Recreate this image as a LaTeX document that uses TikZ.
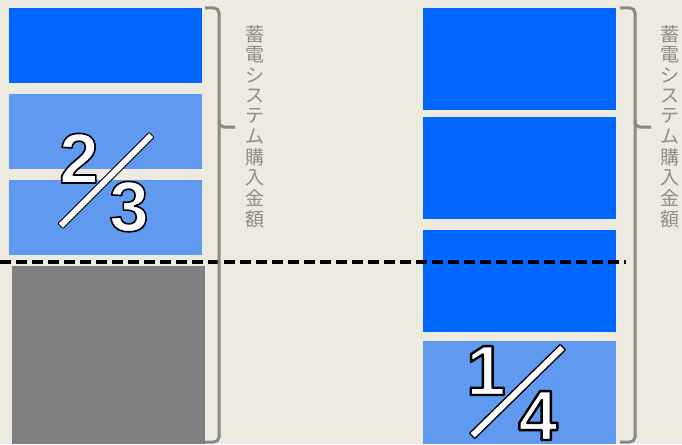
\documentclass[tikz,border=0pt]{standalone}
\usepackage{fontspec}
\setmainfont{Liberation Sans}
\newfontfamily\cjk{Noto Sans CJK JP}
\definecolor{bg}{HTML}{EDEAE0}
\definecolor{dblue}{HTML}{0066FF}
\definecolor{lblue}{HTML}{6099F0}
\definecolor{greybox}{HTML}{808080}
\definecolor{bracegrey}{HTML}{888888}
\definecolor{txtgrey}{HTML}{8C8C8C}
\newcommand{\outlined}[2]{\special{pdf:code q 0 0 0 RG #1 w 1 j 2 Tr}#2\special{pdf:code Q}}
\tikzset{
  bracepath/.style={draw=bracegrey,line width=3pt,rounded corners=5pt},
  digit/.style={inner sep=0pt,outer sep=0pt,text=white,font=\bfseries\fontsize{71}{71}\selectfont,anchor=base},
  slashbar/.style={draw=black,fill=white,line width=0.9pt,minimum width=129pt,minimum height=7pt,inner sep=0pt,rounded corners=0.8pt},
  vchar/.style={text=txtgrey,font=\cjk\fontsize{19}{19}\selectfont,inner sep=0pt}
}
\begin{document}
\begin{tikzpicture}[x=1pt,y=-1pt]
\fill[bg] (0,0) rectangle (682,444);
\useasboundingbox (0,0) rectangle (682,444);
% left column
\fill[dblue] (9,8) rectangle (202,83);
\fill[lblue] (9,94) rectangle (202,169);
\fill[lblue] (9,180) rectangle (202,255);
\fill[greybox] (12,266) rectangle (205,444);
% right column
\fill[dblue] (423,8) rectangle (616,110);
\fill[dblue] (423,117) rectangle (616,219);
\fill[dblue] (423,230) rectangle (616,332);
\fill[lblue] (423,341) rectangle (616,444);
% dashed line
\coordinate (dl) at (0,262);
\coordinate (dr) at (626,262);
\draw[black,line width=3.5pt,dash pattern=on 11pt off 5pt] (dl) -- (dr);
% braces
\draw[bracepath] (205,8) -- (219,8) -- (219,127) -- (235,127);
\draw[bracepath] (219,120) -- (219,442) -- (205,442);
\draw[bracepath] (620,8) -- (635,8) -- (635,127) -- (651,127);
\draw[bracepath] (635,120) -- (635,442) -- (620,442);
% vertical labels
\foreach \c [count=\i from 0] in {蓄,電,シ,ス,テ,ム,購,入,金,額}{
  \node[vchar] (l\i) at (255,{34+20.55*\i}) {\c};
  \node[vchar] (r\i) at (670,{34+20.55*\i}) {\c};
}
% fraction 2/3
\node[digit] (two) at (79,183) {\outlined{1.6}{2}};
\node[digit] (three) at (129,231) {\outlined{1.6}{3}};
\node[slashbar,rotate=45] (s1) at (106,180.5) {};
% fraction 1/4
\node[digit] (one) at (486,395) {\outlined{2.4}{1}};
\node[digit] (four) at (538,440) {\outlined{2.4}{4}};
\node[slashbar,rotate=44.4,line width=1.3pt,minimum width=127pt,minimum height=7.5pt] (s2) at (517.5,391.5) {};
\end{tikzpicture}
\end{document}
